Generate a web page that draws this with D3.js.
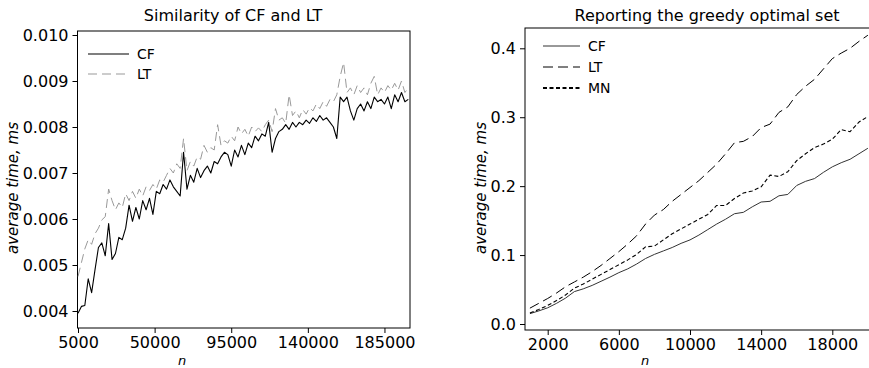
<!DOCTYPE html>
<html>
<head>
<meta charset="utf-8">
<script src="https://cdn.jsdelivr.net/npm/d3@7"></script>
<style>
  body { margin: 0; background: #fff; }
  svg { display: block; }
  text { font-family: "DejaVu Sans", sans-serif; fill: #000; }
</style>
</head>
<body>
<svg id="chart" width="869" height="368"></svg>
<script>
// ---- left panel: Similarity of CF and LT ----
const simN = d3.range(5000, 200000, 2000);
const simCF = [
  0.00395, 0.00410, 0.00412, 0.00470, 0.00440, 0.00490, 0.00538, 0.00548, 0.00520, 0.00590,
  0.00512, 0.00525, 0.00560, 0.00555, 0.00580, 0.00630, 0.00595, 0.00625, 0.00600, 0.00640,
  0.00620, 0.00645, 0.00610, 0.00660, 0.00655, 0.00675, 0.00665, 0.00685, 0.00670, 0.00660,
  0.00650, 0.00745, 0.00665, 0.00695, 0.00680, 0.00710, 0.00690, 0.00705, 0.00715, 0.00700,
  0.00725, 0.00720, 0.00735, 0.00745, 0.00740, 0.00715, 0.00750, 0.00735, 0.00760, 0.00740,
  0.00765, 0.00755, 0.00780, 0.00770, 0.00785, 0.00780, 0.00810, 0.00745, 0.00775, 0.00790,
  0.00795, 0.00805, 0.00795, 0.00810, 0.00800, 0.00810, 0.00805, 0.00815, 0.00808, 0.00820,
  0.00812, 0.00825, 0.00815, 0.00820, 0.00810, 0.00800, 0.00775, 0.00865, 0.00855, 0.00865,
  0.00835, 0.00815, 0.00840, 0.00850, 0.00835, 0.00855, 0.00840, 0.00865, 0.00855, 0.00860,
  0.00850, 0.00865, 0.00840, 0.00870, 0.00855, 0.00875, 0.00855, 0.00860
];
const simLT = [
  0.00475, 0.00505, 0.00535, 0.00555, 0.00545, 0.00568, 0.00580, 0.00598, 0.00605, 0.00665,
  0.00640, 0.00620, 0.00635, 0.00625, 0.00655, 0.00640, 0.00660, 0.00645, 0.00665, 0.00650,
  0.00670, 0.00662, 0.00675, 0.00665, 0.00685, 0.00680, 0.00695, 0.00710, 0.00700, 0.00720,
  0.00710, 0.00775, 0.00705, 0.00725, 0.00715, 0.00735, 0.00730, 0.00760, 0.00745, 0.00755,
  0.00750, 0.00805, 0.00760, 0.00770, 0.00765, 0.00780, 0.00770, 0.00800, 0.00785, 0.00795,
  0.00780, 0.00800, 0.00790, 0.00798, 0.00790, 0.00805, 0.00815, 0.00790, 0.00840, 0.00815,
  0.00820, 0.00808, 0.00870, 0.00825, 0.00835, 0.00820, 0.00838, 0.00828, 0.00842, 0.00835,
  0.00850, 0.00840, 0.00855, 0.00845, 0.00860, 0.00855, 0.00870, 0.00910, 0.00940, 0.00875,
  0.00885, 0.00870, 0.00890, 0.00875, 0.00885, 0.00870, 0.00895, 0.00910, 0.00870, 0.00885,
  0.00875, 0.00890, 0.00880, 0.00895, 0.00880, 0.00900, 0.00875, 0.00885
];
const simXTicks = [5000, 50000, 95000, 140000, 185000];
const simYTicks = [0.004, 0.005, 0.006, 0.007, 0.008, 0.009, 0.010];

// ---- right panel: Reporting the greedy optimal set ----
const repN = d3.range(1000, 20001, 500);
const repCF = [
  0.015, 0.019, 0.0235, 0.030, 0.0375, 0.047, 0.051, 0.056, 0.062, 0.068,
  0.0745, 0.080, 0.087, 0.095, 0.101, 0.106, 0.111, 0.117, 0.122, 0.129,
  0.137, 0.145, 0.152, 0.160, 0.162, 0.170, 0.177, 0.178, 0.186, 0.188,
  0.201, 0.207, 0.211, 0.220, 0.228, 0.234, 0.239, 0.247, 0.255
];
const repLT = [
  0.023, 0.030, 0.037, 0.045, 0.054, 0.061, 0.068, 0.076, 0.085, 0.095,
  0.105, 0.116, 0.128, 0.145, 0.158, 0.166, 0.178, 0.188, 0.198, 0.208,
  0.220, 0.232, 0.247, 0.263, 0.265, 0.272, 0.285, 0.290, 0.307, 0.315,
  0.333, 0.345, 0.355, 0.370, 0.385, 0.393, 0.400, 0.410, 0.419
];
const repMN = [
  0.016, 0.021, 0.027, 0.034, 0.042, 0.052, 0.058, 0.065, 0.072, 0.079,
  0.086, 0.093, 0.101, 0.112, 0.113, 0.122, 0.131, 0.138, 0.145, 0.152,
  0.159, 0.172, 0.172, 0.182, 0.190, 0.193, 0.199, 0.216, 0.214, 0.221,
  0.237, 0.247, 0.256, 0.261, 0.268, 0.282, 0.279, 0.293, 0.301
];
const repXTicks = [2000, 6000, 10000, 14000, 18000];
const repYTicks = [0.0, 0.1, 0.2, 0.3, 0.4];

const svg = d3.select("#chart");

function drawPanel(p) {
  const g = svg.append("g");
  const x = d3.scaleLinear().domain(p.xDomain).range(p.xRange);
  const y = d3.scaleLinear().domain(p.yDomain).range(p.yRange);

  // frame
  g.append("rect")
    .attr("x", p.box[0]).attr("y", p.box[1])
    .attr("width", p.box[2] - p.box[0]).attr("height", p.box[3] - p.box[1])
    .attr("fill", "none").attr("stroke", "#000").attr("stroke-width", 1);

  // axes
  const ax = g.append("g")
    .attr("transform", "translate(" + p.box[0] + ",0)")
    .call(d3.axisLeft(y).tickValues(p.yTicks).tickFormat(d3.format(p.yFmt)).tickSize(5).tickPadding(4));
  const bx = g.append("g")
    .attr("transform", "translate(0," + p.box[3] + ")")
    .call(d3.axisBottom(x).tickValues(p.xTicks).tickFormat(d3.format("d")).tickSize(5).tickPadding(4));
  [ax, bx].forEach(a => {
    a.select(".domain").remove();
    a.selectAll("text").attr("font-size", 16).attr("font-family", "DejaVu Sans");
  });

  // clip for lines
  svg.append("clipPath").attr("id", p.id + "-clip")
    .append("rect")
    .attr("x", p.box[0]).attr("y", p.box[1])
    .attr("width", p.box[2] - p.box[0]).attr("height", p.box[3] - p.box[1]);

  const line = d3.line().x(d => x(d[0])).y(d => y(d[1]));
  p.series.forEach(s => {
    g.append("path")
      .datum(p.n.map((v, i) => [v, s.values[i]]))
      .attr("clip-path", "url(#" + p.id + "-clip)")
      .attr("fill", "none")
      .attr("stroke", s.color)
      .attr("stroke-width", s.width)
      .attr("stroke-dasharray", s.dash)
      .attr("stroke-linejoin", "round")
      .attr("d", line);
  });

  // legend
  p.series.forEach((s, i) => {
    const ly = p.legend[1] + i * p.legend[2];
    g.append("line")
      .attr("x1", p.legend[0]).attr("x2", p.legend[0] + p.legend[3])
      .attr("y1", ly).attr("y2", ly)
      .attr("stroke", s.color).attr("stroke-width", s.legendWidth || s.width)
      .attr("stroke-dasharray", s.dash);
    g.append("text")
      .attr("x", p.legend[0] + p.legend[3] + 8).attr("y", ly)
      .attr("dy", "0.35em").attr("font-size", 14)
      .text(s.name);
  });

  // titles
  g.append("text")
    .attr("x", p.titleX).attr("y", 21)
    .attr("text-anchor", "middle").attr("font-size", 16)
    .text(p.title);
  g.append("text")
    .attr("transform", "translate(" + p.yLabelX + ",188) rotate(-90)")
    .attr("text-anchor", "middle").attr("font-size", 15).attr("font-style", "italic")
    .attr("dy", "0.35em")
    .text("average time, ms");
  g.append("text")
    .attr("x", p.nX).attr("y", 365)
    .attr("text-anchor", "middle").attr("font-size", 13).attr("font-style", "italic")
    .text("n");
}

drawPanel({
  id: "sim",
  title: "Similarity of CF and LT",
  titleX: 233,
  yLabelX: 13,
  nX: 182,
  n: simN,
  xDomain: [5000, 200000], xRange: [78, 410],
  yDomain: [0.004, 0.010], yRange: [311, 35],
  box: [77.5, 31, 410, 328],
  xTicks: simXTicks, yTicks: simYTicks, yFmt: ".3f",
  legend: [88, 54, 20, 41],
  series: [
    { name: "CF", values: simCF, color: "#000", width: 1.1, dash: null },
    { name: "LT", values: simLT, color: "#999", width: 1, dash: "9,5" }
  ]
});

drawPanel({
  id: "rep",
  title: "Reporting the greedy optimal set",
  titleX: 707,
  yLabelX: 481,
  nX: 645,
  n: repN,
  xDomain: [2000, 18000], xRange: [547.7, 832.3],
  yDomain: [0, 0.4], yRange: [324, 48.3],
  box: [525, 28, 873, 330],
  xTicks: repXTicks, yTicks: repYTicks, yFmt: ".1f",
  legend: [543, 46, 21, 37],
  series: [
    { name: "CF", values: repCF, color: "#333", width: 1, dash: null },
    { name: "LT", values: repLT, color: "#000", width: 1, dash: "10,5" },
    { name: "MN", values: repMN, color: "#000", width: 1.1, dash: "4,2.5", legendWidth: 2 }
  ]
});
</script>
</body>
</html>
